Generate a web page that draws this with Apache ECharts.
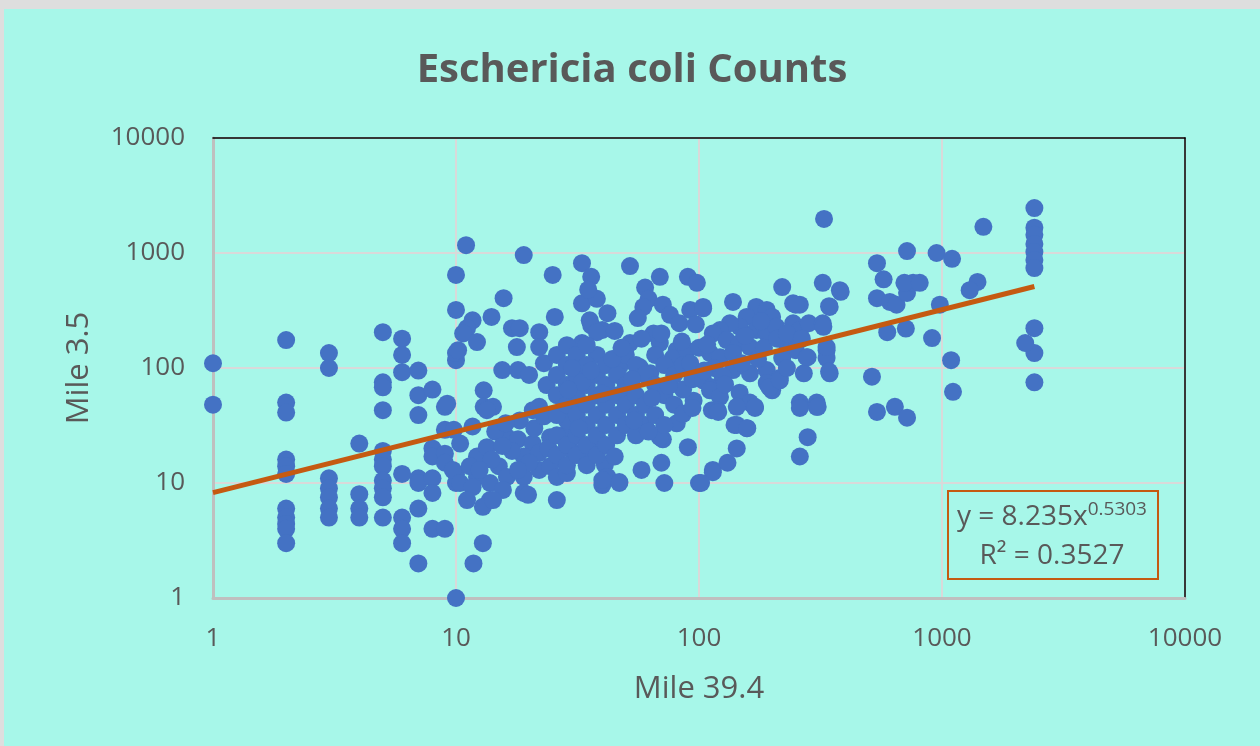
<!DOCTYPE html>
<html>
<head>
<meta charset="utf-8">
<script src="https://cdn.jsdelivr.net/npm/echarts@6/dist/echarts.min.js"></script>
<style>
  html, body { margin: 0; padding: 0; background: #dedede; }
  #chart { position: absolute; left: 4px; top: 9px; width: 1256px; height: 737px; background: #a7f7e9; }
</style>
</head>
<body>
<div id="chart"></div>
<script>
// E. coli counts: [Mile 39.4, Mile 3.5]
const lowRange = [
  [1,110],[1,48],
  [2,175],[2,50],[2,41],[2,16],[2,14],[2,12],[2,6],[2,5],[2,4.4],[2,4],[2,3],
  [3,135],[3,100],[3,11],[3,9],[3,7.5],[3,6],[3,5],
  [4,22],[4,8],[4,6],[4,5],
  [5,205],[5,75],[5,68],[5,43],[5,19],[5,16],[5,14],[5,10.5],[5,9],[5,7.5],[5,5],
  [6,180],[6,130],[6,92],[6,12],[6,5],[6,4],[6,3],
  [7,95],[7,58],[7,39],[7,11],[7,10],[7,6],[7,2],
  [8,65],[8,20],[8,17],[8,11],[8,8.2],[8,4],
  [9,46],[9,29],[9,4],[9,18],[9,15],
  [10,645],[10,320],[10,117],[10,135],[10,1],[10,12],[10,10]
];
const lowMidRange = [
  [11,1170],[19,960],[25,645],[15.7,405],[14,278],[11.7,260],[11.1,222],[10.7,200],[12.2,168],[10.2,143],
  [17,222],[18.3,222],[17.8,152],[22,205],[22,152],[25.5,278],[15.5,96],[18,96],[20,87],[23,110],[23.6,71],
  [13,64],[9.2,49],[13,46],[14.2,46],[9.8,29],[13.4,43],[18.3,35],[20.7,43],[22,46],[10.4,22],[12.2,17],
  [13.4,20.5],[16.2,25],[18,24],[15,14],[16.2,11.3],[19,11.3],[22,13],[9.7,13],[11.4,14],[12.2,11.3],
  [10.4,10],[11.7,9.2],[13.8,10],[11.1,7.1],[13.8,7.1],[15.6,8.7],[19,8.2],[19.8,7.9],[26,7.1],[24.4,14],
  [26,11.3],[20.7,22],[24.4,25],[19,17],[22,18.3],[11.7,31],[12.9,3],[11.8,2],[12.9,6.2],[14.2,7.1],
  [14.5,28],[16,33],[21,30],[23,38],[17,19],[14,16],[12.5,13],[20,15],[24,20],[18,13],[15.5,21]
];
const midRange = [
  [33,815],[36,620],[52,770],[90,620],[98,550],[33,365],[36,235],[40,214],[38,400],[35,480],[60,500],[69,620],
  [62,400],[71,355],[59,340],[56,272],[76,290],[83,245],[92,320],[35.5,260],[38,205],[65,200],[69,165],
  [52,165],[49,143],[81,143],[78,122],[89,143],[38,130],[33,165],[47,102],[57,102],[63,90],[52,61],[95,52],
  [45,210],[42,300],[28.6,27],[30,19],[28.6,35],[30,46],[28.6,12.2],
  [39,20.5],[35,18],[41,14.4],[42,11.3],[47,10.2],[40,9.6],[58,13],[70,15],[72,10],[90,20.5],[100,10],
  [81,33],[71,24],[69,25],[47,10],[40,10.6],
  [26,130],[26,87],[26,58],[26,39],[26,26],[26,17.5],
  [28.6,158],[28.6,106],[28.6,71],[28.6,48],[28.6,21.4],[28.6,14.3],
  [31.4,130],[31.4,87],[31.4,58],[31.4,39],[31.4,26],[31.4,17.5],
  [34.5,158],[34.5,106],[34.5,71],[34.5,48],[34.5,32],[34.5,21.4],[34.5,14.3],
  [38,87],[38,58],[38,39],[38,26],[38,17.5],
  [41.5,106],[41.5,71],[41.5,48],[41.5,32],[41.5,21.4],
  [46,87],[46,58],[46,39],[46,26],
  [50,130],[50,71],[50,48],[50,32],
  [55,106],[55,58],[55,39],[55,26],
  [60,87],[60,48],[60,32],
  [66,130],[66,71],[66,39],
  [72,106],[72,58],[72,32],
  [79,87],[79,48],
  [86,106],[86,65],[86,40],
  [94,80],[94,45],
  [30,100],[33,75],[36,95],[40,60],[44,120],[48,150],[53,80],[58,180],[64,55],[70,200],[75,70],[85,170],
  [92,110],[97,240],[100,150],[54,35],[62,28],[45,17],[32,30],[29,65]
];
const highRange = [
  [104,340],[104,330],[104,78],[113,68],[114,13],[113,43],
  [138,375],[172,340],[190,320],[200,278],[157,278],[147,228],[134,245],[122,214],[114,200],[172,214],
  [190,200],[208,228],[244,245],[260,214],[283,245],[323,245],[130,175],[147,165],[162,152],[228,165],
  [250,143],[111,135],[122,124],[138,135],[220,122],[277,124],[335,143],[335,122],[345,90],[138,96],
  [162,90],[190,96],[215,82],[111,64],[122,56],[147,61],[162,50],[190,74],[200,64],[260,50],[305,50],
  [119,43],[143,46],[170,45],[143,32],[157,30],[143,20],[131,15],[114,12.4],[102,10],[260,45],[305,46],
  [280,25],[260,17],[220,505],[323,550],[380,475],[244,365],[260,355],[345,340],[195,68],[215,78],
  [120,41.5],[140,32],[158,30],[170,46],
  [115,100],[125,85],[150,110],[175,120],[185,150],[210,180],[230,200],[265,180],[180,255],[155,190],
  [230,100],[128,72],[105,95],[108,160],[270,90]
];
const topRange = [
  [327,1980],[718,1040],[950,1000],[540,815],[575,590],[540,405],[610,375],[650,355],[718,450],[760,550],
  [700,550],[595,205],[710,220],[910,182],[515,84],[540,41.5],[640,46],[718,37],[383,460],[343,345],
  [325,228],[335,152],[343,93],[280,124],[308,46],[250,355],
  [2400,2460],[2400,1660],[2400,1440],[2400,1200],[2400,1020],[2400,870],[2400,740],[2400,222],[2400,135],
  [2400,75],[2200,165],
  [1480,1690],[1100,890],[1400,560],[1300,475],[980,355],[810,550],[1090,117],[1110,62]
];
// Power trendline endpoints (y = 8.235x^0.5303, R² = 0.3527)
const trendX = [1, 2400];
const trendY = [8.235, 511];
const axisTicks = [1, 10, 100, 1000, 10000];

const points = [].concat(lowRange, lowMidRange, midRange, highRange, topRange);
const trend = trendX.map((x, i) => [x, trendY[i]]);

const txt = '#595959';
const font = 'Open Sans';
const chart = echarts.init(document.getElementById('chart'), null, { renderer: 'canvas' });
const base = {
  type: 'log', logBase: 10, min: axisTicks[0], max: axisTicks[axisTicks.length - 1]
};
const ax = Object.assign({}, base, {
  axisLine: { show: true, lineStyle: { color: '#bfbfbf', width: 3 } },
  axisTick: { show: false },
  splitLine: { show: true, lineStyle: { color: '#d9d9d9', width: 2 } },
  axisLabel: { color: txt, fontSize: 26, fontFamily: font, formatter: v => String(Math.round(v)) },
  nameTextStyle: { color: txt, fontSize: 31, fontFamily: font },
  nameLocation: 'middle'
});
const frame = Object.assign({}, base, {
  axisLine: { show: true, lineStyle: { color: '#000', width: 1.5 } },
  axisTick: { show: false }, axisLabel: { show: false }, splitLine: { show: false }
});
chart.setOption({
  animation: false,
  title: {
    text: 'Eschericia coli Counts', left: 'center', top: 37,
    textStyle: { color: txt, fontSize: 40, fontWeight: 'bold', fontFamily: font }
  },
  grid: { left: 209, right: 75, top: 129, bottom: 148 },
  xAxis: [
    Object.assign({}, ax, { name: 'Mile 39.4', nameGap: 76, axisLabel: Object.assign({}, ax.axisLabel, { margin: 28 }) }),
    Object.assign({}, frame, { position: 'top' })
  ],
  yAxis: [
    Object.assign({}, ax, { name: 'Mile 3.5', nameGap: 118, axisLabel: Object.assign({}, ax.axisLabel, { margin: 28 }) }),
    Object.assign({}, frame, { position: 'right' })
  ],
  series: [
    { type: 'scatter', data: points, symbolSize: 18, itemStyle: { color: '#4472c4', opacity: 1 } },
    { type: 'line', data: trend, symbol: 'none', lineStyle: { color: '#c55a11', width: 5 }, z: 3 }
  ],
  graphic: [
    { type: 'rect', left: 943, top: 481, shape: { width: 210, height: 88 },
      style: { fill: 'transparent', stroke: '#c55a11', lineWidth: 2 }, z: 10 },
    { type: 'text', x: 1048, y: 508, z: 11,
      style: { text: '{a|y = 8.235x}{s|0.5303}', align: 'center', verticalAlign: 'middle',
        rich: { a: { fontSize: 28, fontFamily: font, fill: txt }, s: { fontSize: 19, fontFamily: font, fill: txt, verticalAlign: 'top', padding: [0,0,14,0] } } } },
    { type: 'text', x: 1048, y: 547, z: 11,
      style: { text: 'R² = 0.3527', align: 'center', verticalAlign: 'middle', fontSize: 28, fontFamily: font, fill: txt } }
  ]
});
</script>
</body>
</html>
